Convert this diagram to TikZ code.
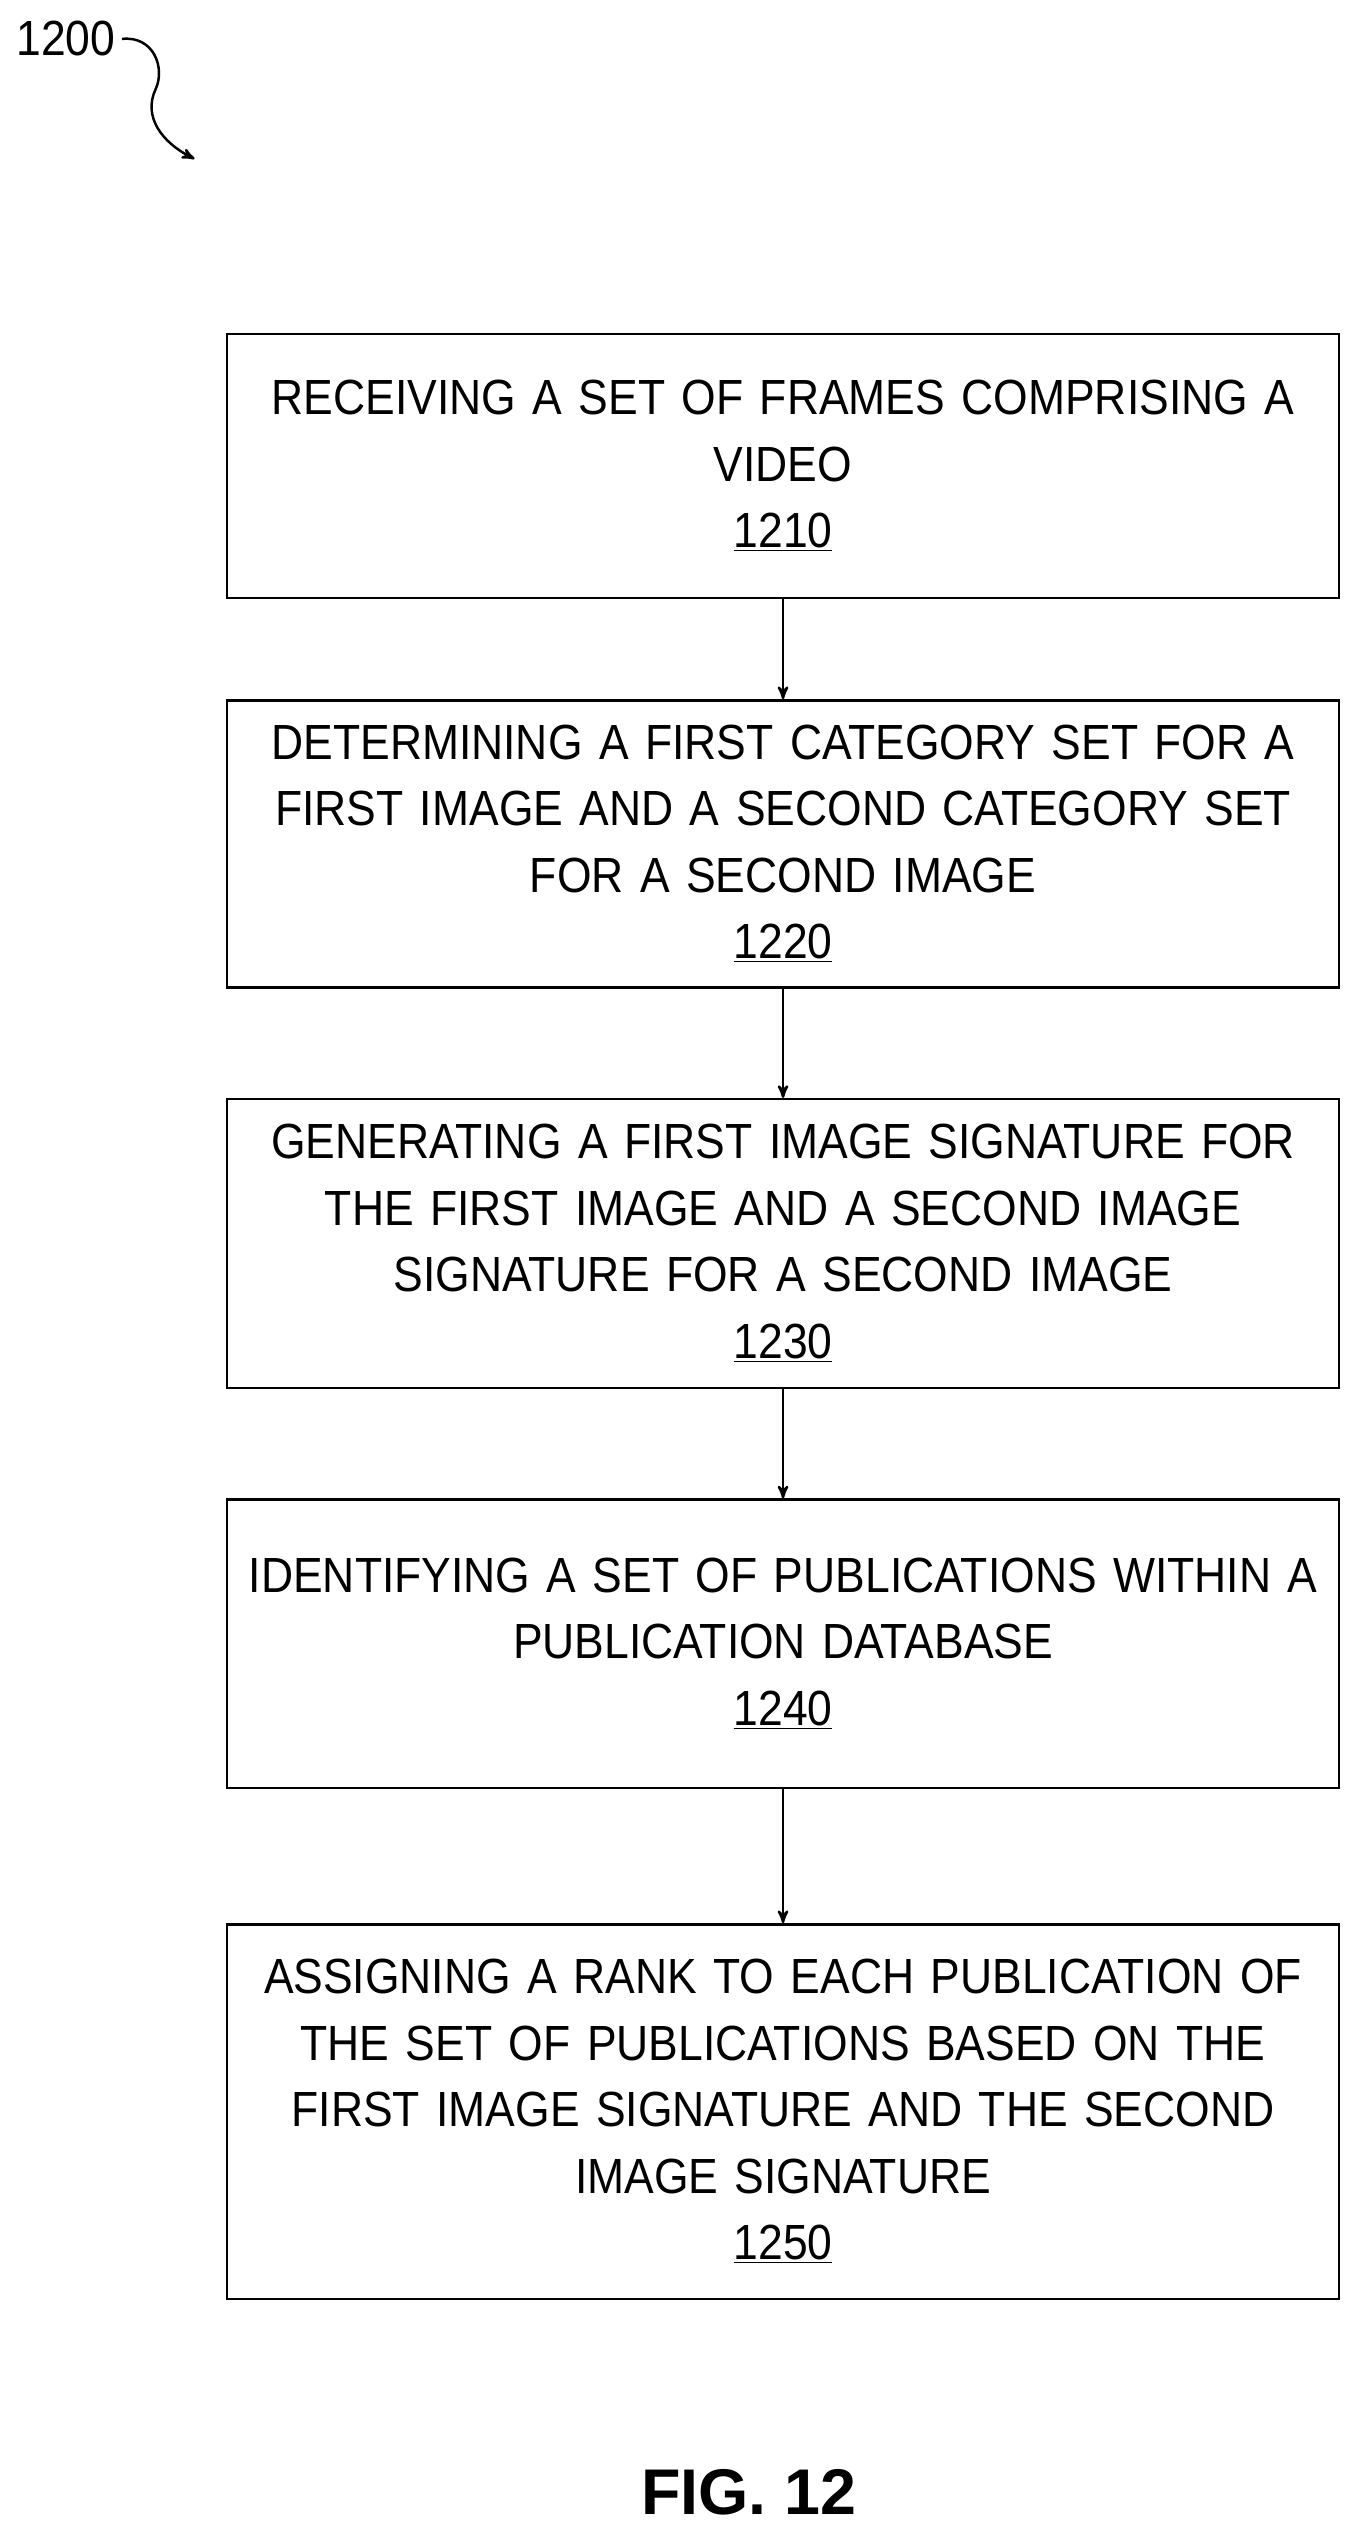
\documentclass[tikz,border=0pt]{standalone}
\usepackage{fontspec}
\setmainfont{Liberation Sans}[FakeStretch=0.9]
\newfontfamily\capfont{Liberation Sans}
\usetikzlibrary{positioning, arrows}

\begin{document}
\begin{tikzpicture}[x=0.03cm, y=-0.03cm, >=stealth', font=\fontsize{26}{35}\selectfont,
    stepbox/.style={draw, line width=1.3pt, minimum width=20.58cm, text width=20.4cm, align=center, inner sep=0pt}]
    \useasboundingbox (0,0) rectangle (838,1568);

    \node[anchor=west] (fig) at (6,24) {1200};
    \node[stepbox, minimum height=4.89cm] (s1) at (483,287.5) {RECEIVING A SET OF FRAMES COMPRISING A\\VIDEO\\\underline{1210}};
    \node[stepbox, minimum height=5.31cm] (s2) at (483,520.5) {DETERMINING A FIRST CATEGORY SET FOR A\\FIRST IMAGE AND A SECOND CATEGORY SET\\FOR A SECOND IMAGE\\\underline{1220}};
    \node[stepbox, minimum height=5.34cm] (s3) at (483,767) {GENERATING A FIRST IMAGE SIGNATURE FOR\\THE FIRST IMAGE AND A SECOND IMAGE\\SIGNATURE FOR A SECOND IMAGE\\\underline{1230}};
    \node[stepbox, minimum height=5.34cm] (s4) at (483,1014) {IDENTIFYING A SET OF PUBLICATIONS WITHIN A\\PUBLICATION DATABASE\\\underline{1240}};
    \node[stepbox, minimum height=6.93cm] (s5) at (483,1302.5) {ASSIGNING A RANK TO EACH PUBLICATION OF\\THE SET OF PUBLICATIONS BASED ON THE\\FIRST IMAGE SIGNATURE AND THE SECOND\\IMAGE SIGNATURE\\\underline{1250}};
    \node[font=\capfont\fontsize{34}{40}\selectfont\bfseries] (cap) at (462,1537) {FIG. 12};

    \coordinate (tip) at (120,98);
    \draw[->, line width=1.3pt, arrows={-stealth'[scale=1.6]}] (fig.east) .. controls (95,22) and (102,42) .. (96,55)
      .. controls (88,72) and (100,88) .. (tip);

    \path[->, line width=1.3pt, arrows={-stealth'[scale=1.6]}]
      (s1) edge (s2)
      (s2) edge (s3)
      (s3) edge (s4)
      (s4) edge (s5)
    ;
\end{tikzpicture}
\end{document}
